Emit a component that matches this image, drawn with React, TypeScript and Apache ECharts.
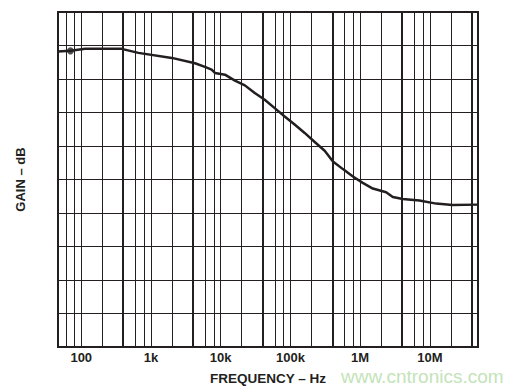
import React, { useEffect, useRef } from "react";
import * as echarts from "echarts";

// Frequency (Hz, as labelled on the axis) and gain (grid divisions, no numeric scale shown)
const freqHz = [
  46.4, 70, 114, 380, 661, 1990, 4280, 5940, 7410, 8270, 11500, 16000, 22200,
  30800, 42800, 59500, 82700, 115000, 160000, 223000, 310000, 407000, 566000,
  787000, 1090000, 1520000, 2360000, 2940000, 4080000, 7080000, 12300000,
  21200000, 49000000,
];
const gain = [
  8.82, 8.84, 8.9, 8.9, 8.78, 8.63, 8.47, 8.36, 8.28, 8.18, 8.13, 7.95, 7.81,
  7.58, 7.38, 7.13, 6.88, 6.64, 6.39, 6.12, 5.86, 5.54, 5.31, 5.09, 4.9, 4.73,
  4.62, 4.48, 4.42, 4.37, 4.28, 4.24, 4.25,
];
const dotIndex = 1;

const tickValues = [100, 1000, 10000, 100000, 1000000, 10000000];
const tickLabels = ["100", "1k", "10k", "100k", "1M", "10M"];

const minorGridFreqs = [
  60, 80, 100, 200, 600, 800, 1000, 2000, 6000, 8000, 10000, 20000, 60000,
  80000, 100000, 200000, 600000, 800000, 1000000, 2000000, 6000000, 8000000,
  10000000, 20000000,
];
const majorGridFreqs = [400, 4000, 40000, 400000, 4000000, 40000000];

const X_MIN = 46.4;
const X_MAX = 49000000;

const INK = "#231f20";
const FONT = "'Liberation Sans', Arial, Helvetica, sans-serif";

export default function App() {
  const ref = useRef<HTMLDivElement>(null);

  useEffect(() => {
    if (!ref.current) return;
    const chart = echarts.init(ref.current, undefined, { renderer: "svg" });

    const lineData = freqHz.map((f, i) => [f, gain[i]]);

    const gridLines = [
      ...minorGridFreqs.map((f) => ({
        xAxis: f,
        lineStyle: { color: INK, width: 1, type: "solid" as const },
      })),
      ...majorGridFreqs.map((f) => ({
        xAxis: f,
        lineStyle: { color: INK, width: 2, type: "solid" as const },
      })),
    ];

    chart.setOption({
      animation: false,
      backgroundColor: "#ffffff",
      grid: {
        left: 58,
        right: 46,
        top: 12,
        bottom: 43,
        show: true,
        borderColor: INK,
        borderWidth: 2,
        backgroundColor: "transparent",
      },
      xAxis: {
        type: "log",
        logBase: 10,
        min: X_MIN,
        max: X_MAX,
        name: "FREQUENCY – Hz",
        nameLocation: "middle",
        nameGap: 24,
        nameTextStyle: {
          color: INK,
          fontFamily: FONT,
          fontWeight: "bold",
          fontSize: 13.5,
        },
        axisLine: { show: false },
        axisTick: { show: false },
        splitLine: { show: false },
        axisLabel: {
          color: INK,
          fontFamily: FONT,
          fontWeight: "bold",
          fontSize: 13,
          margin: 4,
          showMinLabel: false,
          showMaxLabel: false,
          formatter: (v: number) => {
            for (let i = 0; i < tickValues.length; i++) {
              if (Math.abs(v - tickValues[i]) / tickValues[i] < 0.01) return tickLabels[i];
            }
            return "";
          },
        },
      },
      yAxis: {
        type: "value",
        min: 0,
        max: 10,
        interval: 1,
        name: "GAIN – dB",
        nameLocation: "middle",
        nameGap: 31,
        nameTextStyle: {
          color: INK,
          fontFamily: FONT,
          fontWeight: "bold",
          fontSize: 13,
        },
        axisLine: { show: false },
        axisTick: { show: false },
        axisLabel: { show: false },
        splitLine: { show: true, lineStyle: { color: INK, width: 1 } },
      },
      series: [
        {
          type: "line",
          data: lineData,
          symbol: "none",
          lineStyle: { color: INK, width: 2.5 },
          z: 5,
          markLine: {
            silent: true,
            symbol: "none",
            label: { show: false },
            z: 1,
            data: gridLines,
          },
        },
        {
          type: "scatter",
          data: [[freqHz[dotIndex], gain[dotIndex]]],
          symbol: "circle",
          symbolSize: 7,
          itemStyle: { color: INK },
          z: 6,
        },
      ],
      graphic: [
        {
          type: "text",
          x: 341,
          y: 376,
          silent: true,
          style: {
            text: "www.cntronics.com",
            fill: "#c3e3b9",
            font: `19px ${FONT}`,
            verticalAlign: "middle",
            lineHeight: 14,
          },
        },
      ],
    });

    return () => chart.dispose();
  }, []);

  return (
    <div
      ref={ref}
      style={{ position: "fixed", left: 0, top: 0, width: 524, height: 390 }}
    />
  );
}
